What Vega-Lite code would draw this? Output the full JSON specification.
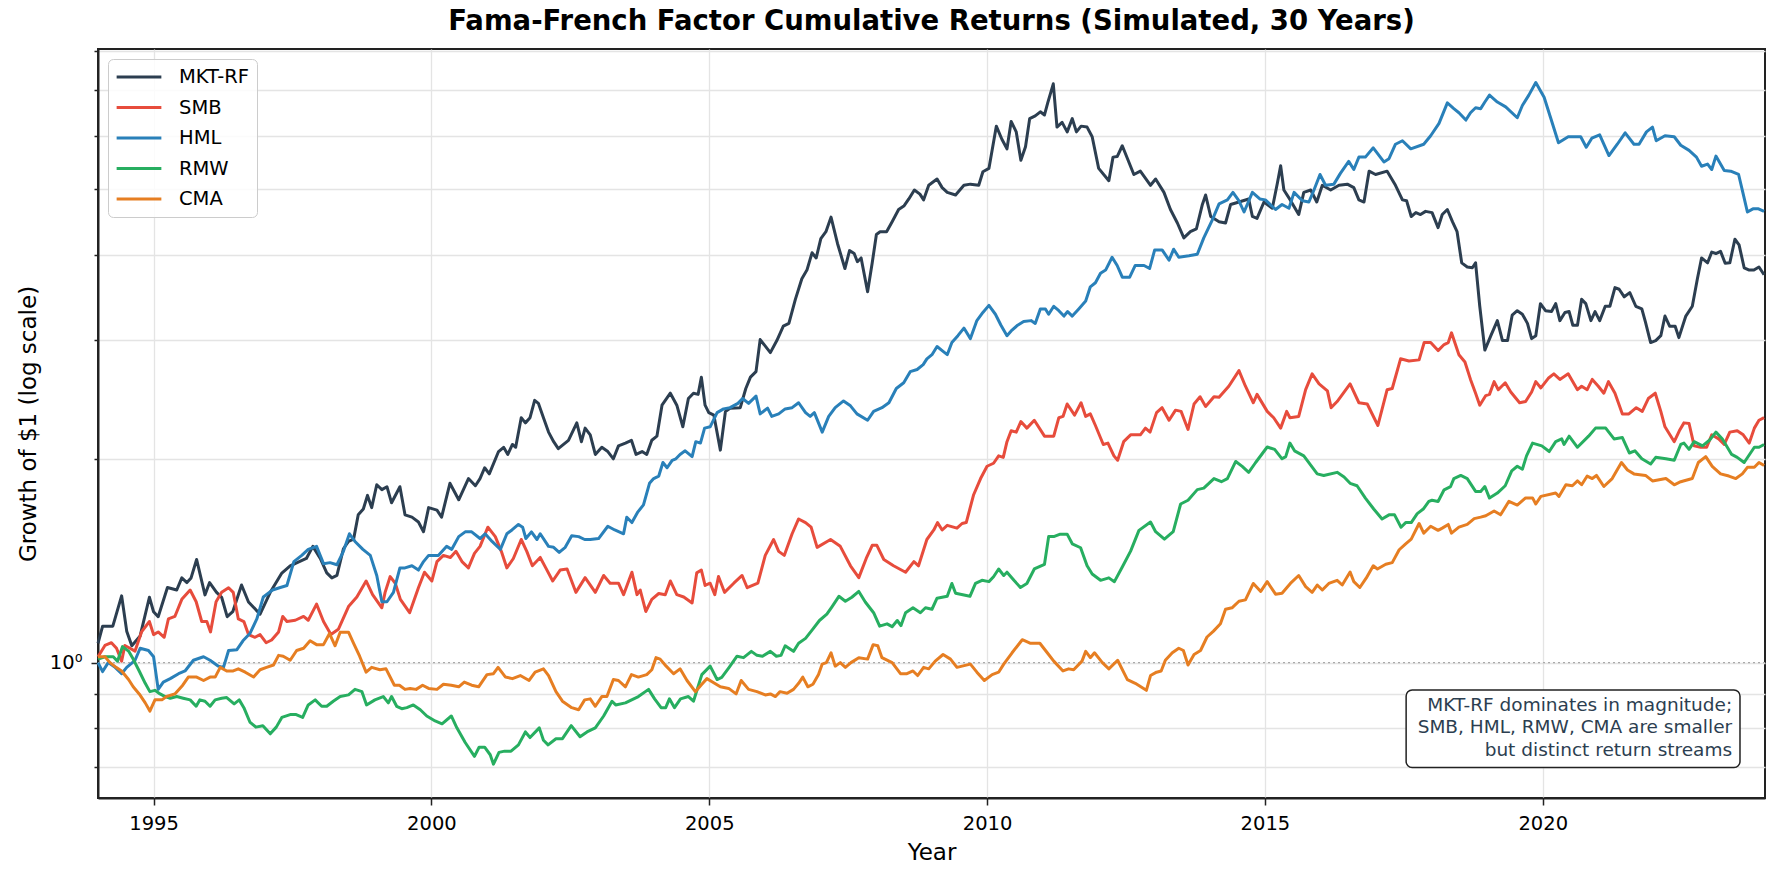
{
"$schema":"https://vega.github.io/schema/vega-lite/v6.json",
"width":1667,"height":749,
"autosize":{"type":"none"},
"padding":{"left":98,"top":49,"right":16,"bottom":82},
"background":"white",
"title":{"text":"Fama-French Factor Cumulative Returns (Simulated, 30 Years)","fontSize":27.5,"fontWeight":"bold","font":"DejaVu Sans","color":"#000","anchor":"middle","frame":"group","offset":-16,"baseline":"alphabetic"},
"config":{"view":{"stroke":"#222","strokeWidth":2},"font":"DejaVu Sans"},
"datasets":{
"mkt":[{"m":0,"v":1.068},{"m":1,"v":1.132},{"m":3.2,"v":1.132},{"m":5.1,"v":1.255},{"m":6.2,"v":1.113},{"m":7.3,"v":1.059},{"m":9.1,"v":1.095},{"m":11.1,"v":1.249},{"m":12,"v":1.189},{"m":13,"v":1.169},{"m":15,"v":1.291},{"m":17,"v":1.28},{"m":18.1,"v":1.334},{"m":19.2,"v":1.313},{"m":20.1,"v":1.334},{"m":21.3,"v":1.42},{"m":23.1,"v":1.259},{"m":24.1,"v":1.313},{"m":25.6,"v":1.27},{"m":26.7,"v":1.249},{"m":27.9,"v":1.169},{"m":29.1,"v":1.189},{"m":31,"v":1.302},{"m":32.5,"v":1.229},{"m":35,"v":1.179},{"m":37.2,"v":1.27},{"m":39.7,"v":1.356},{"m":41.5,"v":1.39},{"m":45,"v":1.425},{"m":46.4,"v":1.485},{"m":48,"v":1.425},{"m":49.4,"v":1.357},{"m":50.5,"v":1.334},{"m":51.6,"v":1.345},{"m":53,"v":1.473},{"m":54.1,"v":1.51},{"m":55.2,"v":1.522},{"m":56.2,"v":1.653},{"m":57.3,"v":1.686},{"m":58.2,"v":1.766},{"m":59.1,"v":1.694},{"m":60.2,"v":1.831},{"m":61.3,"v":1.801},{"m":62.4,"v":1.819},{"m":63.4,"v":1.722},{"m":65.2,"v":1.819},{"m":66.3,"v":1.653},{"m":67.8,"v":1.64},{"m":69.2,"v":1.613},{"m":70.3,"v":1.561},{"m":71.4,"v":1.694},{"m":73.2,"v":1.68},{"m":74.2,"v":1.64},{"m":76,"v":1.84},{"m":77.9,"v":1.74},{"m":80,"v":1.87},{"m":81.5,"v":1.825},{"m":82.5,"v":1.87},{"m":83.5,"v":1.94},{"m":84.5,"v":1.9},{"m":86.5,"v":2.05},{"m":87.6,"v":2.08},{"m":88.5,"v":2.03},{"m":89.5,"v":2.1},{"m":90.2,"v":2.08},{"m":91.4,"v":2.3},{"m":92.3,"v":2.26},{"m":93.3,"v":2.3},{"m":94.3,"v":2.44},{"m":95.1,"v":2.415},{"m":96.2,"v":2.3},{"m":97.3,"v":2.19},{"m":98.4,"v":2.12},{"m":99.4,"v":2.07},{"m":101.6,"v":2.13},{"m":103.4,"v":2.26},{"m":104.4,"v":2.12},{"m":105.2,"v":2.22},{"m":106.3,"v":2.17},{"m":107.4,"v":2.03},{"m":108.8,"v":2.08},{"m":110.1,"v":2.05},{"m":111.3,"v":2.0},{"m":112.4,"v":2.09},{"m":113.9,"v":2.11},{"m":115.2,"v":2.13},{"m":116.2,"v":2.03},{"m":117.5,"v":2.05},{"m":118.5,"v":2.03},{"m":119.6,"v":2.13},{"m":120.7,"v":2.16},{"m":121.8,"v":2.4},{"m":123.6,"v":2.5},{"m":125,"v":2.4},{"m":126.3,"v":2.23},{"m":127.5,"v":2.455},{"m":128.6,"v":2.5},{"m":129.6,"v":2.49},{"m":130.3,"v":2.64},{"m":131.1,"v":2.4},{"m":131.9,"v":2.34},{"m":133,"v":2.32},{"m":134.4,"v":2.06},{"m":135.5,"v":2.35},{"m":136.5,"v":2.375},{"m":138.7,"v":2.38},{"m":139.9,"v":2.54},{"m":140.9,"v":2.64},{"m":142.1,"v":2.69},{"m":143,"v":3.0},{"m":145.2,"v":2.87},{"m":146.6,"v":2.99},{"m":148,"v":3.14},{"m":149.2,"v":3.17},{"m":150.6,"v":3.44},{"m":152,"v":3.69},{"m":153.1,"v":3.8},{"m":154.2,"v":4.03},{"m":155.1,"v":3.96},{"m":156.1,"v":4.23},{"m":157.2,"v":4.33},{"m":158.3,"v":4.55},{"m":159.7,"v":4.16},{"m":161.3,"v":3.82},{"m":162.3,"v":4.06},{"m":163.3,"v":4.02},{"m":164,"v":3.91},{"m":164.8,"v":3.96},{"m":166.2,"v":3.53},{"m":167.2,"v":3.895},{"m":168.1,"v":4.29},{"m":168.9,"v":4.33},{"m":170.3,"v":4.33},{"m":171.5,"v":4.48},{"m":172.9,"v":4.67},{"m":174.1,"v":4.73},{"m":175.1,"v":4.84},{"m":176.3,"v":4.99},{"m":177.5,"v":4.92},{"m":178.3,"v":4.825},{"m":179.4,"v":5.07},{"m":181.2,"v":5.18},{"m":182.3,"v":5.03},{"m":183.4,"v":4.95},{"m":185.2,"v":4.905},{"m":187,"v":5.07},{"m":188.4,"v":5.09},{"m":190.2,"v":5.07},{"m":191.1,"v":5.31},{"m":192.4,"v":5.37},{"m":194,"v":6.2},{"m":195.2,"v":5.93},{"m":196.3,"v":5.74},{"m":197.2,"v":6.3},{"m":198.3,"v":6.08},{"m":199.3,"v":5.52},{"m":200.3,"v":5.78},{"m":201.2,"v":6.36},{"m":202.4,"v":6.42},{"m":203.5,"v":6.51},{"m":204.4,"v":6.44},{"m":205.1,"v":6.71},{"m":206.3,"v":7.16},{"m":207.1,"v":6.18},{"m":208.2,"v":6.28},{"m":209.3,"v":6.08},{"m":210.4,"v":6.36},{"m":211.3,"v":6.08},{"m":212.3,"v":6.2},{"m":213.6,"v":6.18},{"m":214.7,"v":5.98},{"m":216.1,"v":5.37},{"m":218.3,"v":5.15},{"m":219.2,"v":5.58},{"m":220.1,"v":5.59},{"m":221.2,"v":5.8},{"m":223.7,"v":5.26},{"m":225.1,"v":5.32},{"m":227.3,"v":5.07},{"m":228.4,"v":5.18},{"m":230.2,"v":4.95},{"m":231.6,"v":4.67},{"m":233.1,"v":4.46},{"m":234.5,"v":4.24},{"m":235.9,"v":4.33},{"m":237.2,"v":4.37},{"m":238.5,"v":4.75},{"m":239.2,"v":4.905},{"m":240.3,"v":4.56},{"m":242.1,"v":4.48},{"m":243.5,"v":4.46},{"m":244.6,"v":4.75},{"m":246.4,"v":4.79},{"m":248.5,"v":4.84},{"m":249.3,"v":4.56},{"m":250.3,"v":4.53},{"m":251.8,"v":4.79},{"m":253.6,"v":4.69},{"m":254.7,"v":5.11},{"m":255.4,"v":5.42},{"m":256.1,"v":4.99},{"m":257.5,"v":4.82},{"m":259.3,"v":4.59},{"m":260.4,"v":4.95},{"m":261.9,"v":4.99},{"m":263.2,"v":4.79},{"m":264.4,"v":5.07},{"m":266.2,"v":4.99},{"m":268,"v":5.07},{"m":269.8,"v":5.09},{"m":271.2,"v":5.03},{"m":272.3,"v":4.825},{"m":273.4,"v":4.79},{"m":274.5,"v":5.32},{"m":275.9,"v":5.26},{"m":278.4,"v":5.32},{"m":280.2,"v":5.07},{"m":281.7,"v":4.825},{"m":282.6,"v":4.81},{"m":283.6,"v":4.56},{"m":284.6,"v":4.62},{"m":285.6,"v":4.59},{"m":286.7,"v":4.64},{"m":288.1,"v":4.62},{"m":289.4,"v":4.39},{"m":290.3,"v":4.59},{"m":291.4,"v":4.67},{"m":292.5,"v":4.48},{"m":293.5,"v":4.33},{"m":294.5,"v":3.895},{"m":295.7,"v":3.84},{"m":296.8,"v":3.83},{"m":297.5,"v":3.895},{"m":298.4,"v":3.36},{"m":299.5,"v":2.895},{"m":300.8,"v":3.04},{"m":302.2,"v":3.2},{"m":303.3,"v":2.99},{"m":304.4,"v":2.99},{"m":305.4,"v":3.26},{"m":306.5,"v":3.31},{"m":307.6,"v":3.27},{"m":308.7,"v":3.17},{"m":309.6,"v":3.01},{"m":310.5,"v":3.04},{"m":311.5,"v":3.39},{"m":312.6,"v":3.31},{"m":313.9,"v":3.3},{"m":314.8,"v":3.39},{"m":315.7,"v":3.2},{"m":316.8,"v":3.29},{"m":317.7,"v":3.3},{"m":318.5,"v":3.15},{"m":319.5,"v":3.15},{"m":320.4,"v":3.44},{"m":321.3,"v":3.39},{"m":322.4,"v":3.2},{"m":323.3,"v":3.3},{"m":324.3,"v":3.2},{"m":325.5,"v":3.36},{"m":326.5,"v":3.36},{"m":327.6,"v":3.58},{"m":328.5,"v":3.56},{"m":329.6,"v":3.47},{"m":330.8,"v":3.52},{"m":332.1,"v":3.36},{"m":333.4,"v":3.33},{"m":334.2,"v":3.18},{"m":335.3,"v":2.97},{"m":336.4,"v":2.99},{"m":337.5,"v":3.04},{"m":338.4,"v":3.25},{"m":339.4,"v":3.14},{"m":340.6,"v":3.14},{"m":341.4,"v":3.02},{"m":342.9,"v":3.25},{"m":344.3,"v":3.36},{"m":345.4,"v":3.69},{"m":346.3,"v":3.96},{"m":347.6,"v":3.895},{"m":348.5,"v":4.04},{"m":349.4,"v":4.02},{"m":350.4,"v":4.05},{"m":351.4,"v":3.89},{"m":352.4,"v":3.895},{"m":353.5,"v":4.22},{"m":354.4,"v":4.14},{"m":355.5,"v":3.83},{"m":356.6,"v":3.8},{"m":357.6,"v":3.8},{"m":358.7,"v":3.84},{"m":359.8,"v":3.74}],
"smb":[{"m":0,"v":1.02},{"m":1.5,"v":1.06},{"m":2.9,"v":1.07},{"m":4,"v":1.05},{"m":5.1,"v":1.005},{"m":5.8,"v":1.06},{"m":6.9,"v":1.05},{"m":8,"v":1.04},{"m":9.4,"v":1.11},{"m":11.1,"v":1.15},{"m":12,"v":1.1},{"m":13,"v":1.11},{"m":14.3,"v":1.09},{"m":15.2,"v":1.16},{"m":16.6,"v":1.17},{"m":18.1,"v":1.24},{"m":19.9,"v":1.28},{"m":21.2,"v":1.23},{"m":22.4,"v":1.15},{"m":23.5,"v":1.15},{"m":24.3,"v":1.11},{"m":25.5,"v":1.23},{"m":26.7,"v":1.27},{"m":28.2,"v":1.29},{"m":29.2,"v":1.27},{"m":30.3,"v":1.16},{"m":31.5,"v":1.15},{"m":32.5,"v":1.1},{"m":33.9,"v":1.09},{"m":35,"v":1.1},{"m":36.3,"v":1.07},{"m":37.5,"v":1.08},{"m":39,"v":1.11},{"m":39.9,"v":1.17},{"m":40.8,"v":1.15},{"m":42.6,"v":1.155},{"m":44.4,"v":1.17},{"m":45.4,"v":1.155},{"m":47.2,"v":1.22},{"m":48.7,"v":1.15},{"m":50.3,"v":1.1},{"m":51.9,"v":1.12},{"m":54.1,"v":1.21},{"m":55.9,"v":1.25},{"m":57.9,"v":1.32},{"m":59.3,"v":1.26},{"m":61.3,"v":1.205},{"m":62,"v":1.27},{"m":63.1,"v":1.34},{"m":64.2,"v":1.31},{"m":65.3,"v":1.24},{"m":67.3,"v":1.185},{"m":69.2,"v":1.29},{"m":70.5,"v":1.36},{"m":72.1,"v":1.32},{"m":73.2,"v":1.41},{"m":74.6,"v":1.44},{"m":76.1,"v":1.43},{"m":77.3,"v":1.46},{"m":78.6,"v":1.41},{"m":80,"v":1.38},{"m":81.3,"v":1.45},{"m":82.5,"v":1.485},{"m":84.2,"v":1.585},{"m":85.8,"v":1.535},{"m":87.1,"v":1.46},{"m":88.3,"v":1.38},{"m":89.7,"v":1.425},{"m":91.4,"v":1.52},{"m":92.6,"v":1.46},{"m":93.8,"v":1.39},{"m":95.5,"v":1.43},{"m":96.7,"v":1.38},{"m":98.2,"v":1.32},{"m":99.8,"v":1.37},{"m":101.3,"v":1.375},{"m":103.2,"v":1.27},{"m":105.2,"v":1.335},{"m":107.4,"v":1.27},{"m":109.2,"v":1.345},{"m":110.6,"v":1.31},{"m":112.4,"v":1.31},{"m":113.5,"v":1.26},{"m":115.3,"v":1.36},{"m":116.4,"v":1.26},{"m":117.1,"v":1.28},{"m":118.3,"v":1.19},{"m":119.6,"v":1.24},{"m":121.1,"v":1.265},{"m":122.5,"v":1.26},{"m":123.6,"v":1.32},{"m":125,"v":1.26},{"m":126.5,"v":1.25},{"m":128.3,"v":1.225},{"m":129.3,"v":1.357},{"m":130.3,"v":1.37},{"m":131.1,"v":1.3},{"m":132.2,"v":1.31},{"m":133.2,"v":1.26},{"m":134,"v":1.34},{"m":135.3,"v":1.27},{"m":137.3,"v":1.31},{"m":139.1,"v":1.345},{"m":140.2,"v":1.29},{"m":142.5,"v":1.31},{"m":144.1,"v":1.44},{"m":145.9,"v":1.52},{"m":147,"v":1.46},{"m":148.2,"v":1.44},{"m":149.9,"v":1.55},{"m":151.3,"v":1.63},{"m":152.8,"v":1.61},{"m":154,"v":1.585},{"m":155.3,"v":1.48},{"m":158.2,"v":1.52},{"m":160.3,"v":1.485},{"m":162.5,"v":1.39},{"m":164.3,"v":1.335},{"m":165.9,"v":1.425},{"m":167.2,"v":1.49},{"m":168.2,"v":1.49},{"m":169.7,"v":1.42},{"m":171.8,"v":1.39},{"m":174.4,"v":1.36},{"m":176.2,"v":1.41},{"m":177.2,"v":1.39},{"m":179,"v":1.52},{"m":180.5,"v":1.57},{"m":181.3,"v":1.61},{"m":182.3,"v":1.57},{"m":183.4,"v":1.595},{"m":185.5,"v":1.58},{"m":186.6,"v":1.605},{"m":187.5,"v":1.61},{"m":189.1,"v":1.77},{"m":190.6,"v":1.87},{"m":192,"v":1.95},{"m":193.4,"v":1.97},{"m":194.5,"v":2.02},{"m":195.5,"v":2.01},{"m":196.3,"v":2.12},{"m":197.2,"v":2.2},{"m":198.3,"v":2.19},{"m":199.3,"v":2.27},{"m":200.6,"v":2.22},{"m":202.2,"v":2.28},{"m":204.4,"v":2.16},{"m":206.4,"v":2.16},{"m":207.5,"v":2.3},{"m":208.4,"v":2.31},{"m":209.3,"v":2.41},{"m":210.9,"v":2.32},{"m":212.3,"v":2.42},{"m":213.3,"v":2.31},{"m":214.3,"v":2.33},{"m":215.4,"v":2.24},{"m":217.1,"v":2.1},{"m":218.1,"v":2.11},{"m":219.4,"v":2.02},{"m":220.2,"v":1.99},{"m":221.5,"v":2.12},{"m":223,"v":2.17},{"m":225.1,"v":2.17},{"m":226.2,"v":2.22},{"m":227.2,"v":2.19},{"m":228.6,"v":2.34},{"m":229.8,"v":2.38},{"m":231.3,"v":2.28},{"m":232.7,"v":2.36},{"m":233.9,"v":2.35},{"m":235.4,"v":2.21},{"m":236.7,"v":2.41},{"m":238,"v":2.47},{"m":239.2,"v":2.39},{"m":241,"v":2.47},{"m":242.1,"v":2.465},{"m":244.2,"v":2.56},{"m":246.4,"v":2.7},{"m":247.8,"v":2.56},{"m":249.5,"v":2.42},{"m":250.3,"v":2.49},{"m":252.5,"v":2.35},{"m":253.9,"v":2.3},{"m":255.4,"v":2.22},{"m":256.7,"v":2.35},{"m":257.4,"v":2.3},{"m":259.3,"v":2.31},{"m":260.8,"v":2.53},{"m":262.2,"v":2.67},{"m":263.7,"v":2.58},{"m":265.5,"v":2.52},{"m":266.3,"v":2.38},{"m":267.6,"v":2.43},{"m":270.4,"v":2.58},{"m":272.3,"v":2.42},{"m":274.1,"v":2.41},{"m":276.4,"v":2.24},{"m":278.4,"v":2.53},{"m":279.5,"v":2.54},{"m":281.3,"v":2.81},{"m":283.1,"v":2.79},{"m":285.3,"v":2.8},{"m":286.4,"v":2.97},{"m":287.8,"v":2.97},{"m":289.4,"v":2.89},{"m":290.7,"v":2.95},{"m":291.6,"v":2.97},{"m":292.3,"v":3.07},{"m":293.9,"v":2.85},{"m":295.2,"v":2.78},{"m":296.4,"v":2.62},{"m":297.5,"v":2.5},{"m":298.4,"v":2.4},{"m":299.7,"v":2.48},{"m":300.5,"v":2.49},{"m":301.5,"v":2.6},{"m":302.4,"v":2.53},{"m":303.9,"v":2.59},{"m":305.1,"v":2.51},{"m":307,"v":2.42},{"m":308.3,"v":2.43},{"m":309.6,"v":2.51},{"m":310.5,"v":2.6},{"m":311.6,"v":2.545},{"m":313.2,"v":2.63},{"m":314.4,"v":2.67},{"m":315.7,"v":2.62},{"m":317.5,"v":2.67},{"m":319.5,"v":2.53},{"m":320.4,"v":2.56},{"m":321.6,"v":2.53},{"m":322.7,"v":2.62},{"m":324,"v":2.56},{"m":325.2,"v":2.5},{"m":326.2,"v":2.6},{"m":327.6,"v":2.5},{"m":329.2,"v":2.33},{"m":330.6,"v":2.33},{"m":332.2,"v":2.38},{"m":333.5,"v":2.35},{"m":334.8,"v":2.455},{"m":336.3,"v":2.5},{"m":337.5,"v":2.35},{"m":338.4,"v":2.23},{"m":340.4,"v":2.12},{"m":341.5,"v":2.2},{"m":342.5,"v":2.26},{"m":343.6,"v":2.255},{"m":344.7,"v":2.09},{"m":346.1,"v":2.08},{"m":347.4,"v":2.08},{"m":348.5,"v":2.17},{"m":350,"v":2.14},{"m":351.2,"v":2.1},{"m":352.4,"v":2.19},{"m":354,"v":2.2},{"m":355.3,"v":2.17},{"m":356.6,"v":2.11},{"m":357.7,"v":2.22},{"m":358.7,"v":2.28},{"m":359.8,"v":2.3}],
"hml":[{"m":0,"v":1.0},{"m":1,"v":0.97},{"m":2.2,"v":1.0},{"m":3.7,"v":0.984},{"m":5.1,"v":0.963},{"m":6.2,"v":0.984},{"m":8,"v":1.008},{"m":9.1,"v":1.05},{"m":10.9,"v":1.042},{"m":12,"v":1.02},{"m":13,"v":0.913},{"m":14.1,"v":0.936},{"m":15.6,"v":0.947},{"m":17.4,"v":0.963},{"m":18.8,"v":0.972},{"m":20.6,"v":1.008},{"m":22.8,"v":1.02},{"m":24.2,"v":1.008},{"m":26,"v":0.988},{"m":27.1,"v":0.984},{"m":28.2,"v":1.042},{"m":30,"v":1.045},{"m":31.3,"v":1.077},{"m":32.8,"v":1.104},{"m":34.3,"v":1.16},{"m":35.7,"v":1.25},{"m":37.7,"v":1.28},{"m":39.2,"v":1.29},{"m":40.8,"v":1.3},{"m":42.3,"v":1.41},{"m":44,"v":1.44},{"m":45.4,"v":1.47},{"m":47.2,"v":1.485},{"m":48.7,"v":1.4},{"m":50.1,"v":1.405},{"m":51.6,"v":1.395},{"m":53,"v":1.46},{"m":54.3,"v":1.55},{"m":55.5,"v":1.51},{"m":57.2,"v":1.47},{"m":58.8,"v":1.44},{"m":60.2,"v":1.345},{"m":61.3,"v":1.23},{"m":62.4,"v":1.23},{"m":63.8,"v":1.27},{"m":65.2,"v":1.38},{"m":66.3,"v":1.38},{"m":67.8,"v":1.39},{"m":69.2,"v":1.37},{"m":70.3,"v":1.41},{"m":71.4,"v":1.44},{"m":73.5,"v":1.44},{"m":75.3,"v":1.485},{"m":76.4,"v":1.47},{"m":77.9,"v":1.535},{"m":79.3,"v":1.56},{"m":80.7,"v":1.56},{"m":82.5,"v":1.525},{"m":83.6,"v":1.55},{"m":85.1,"v":1.51},{"m":86.9,"v":1.47},{"m":88.3,"v":1.55},{"m":89.4,"v":1.57},{"m":90.8,"v":1.6},{"m":91.7,"v":1.585},{"m":92.4,"v":1.525},{"m":93.6,"v":1.56},{"m":94.8,"v":1.52},{"m":95.5,"v":1.55},{"m":97.3,"v":1.485},{"m":98.4,"v":1.48},{"m":99.6,"v":1.455},{"m":100.9,"v":1.48},{"m":102.3,"v":1.54},{"m":103.8,"v":1.535},{"m":105.1,"v":1.52},{"m":106.3,"v":1.52},{"m":108.1,"v":1.525},{"m":110.1,"v":1.59},{"m":111.6,"v":1.57},{"m":113.5,"v":1.55},{"m":114.2,"v":1.64},{"m":115.3,"v":1.61},{"m":116.6,"v":1.67},{"m":117.8,"v":1.71},{"m":119.1,"v":1.84},{"m":120,"v":1.87},{"m":121.1,"v":1.886},{"m":122,"v":1.975},{"m":122.9,"v":1.94},{"m":124,"v":1.99},{"m":124.8,"v":2.0},{"m":125.7,"v":2.03},{"m":126.8,"v":2.055},{"m":128.3,"v":2.015},{"m":129.1,"v":2.12},{"m":130.1,"v":2.11},{"m":131,"v":2.22},{"m":132.2,"v":2.23},{"m":133.7,"v":2.34},{"m":135.1,"v":2.37},{"m":136.5,"v":2.38},{"m":138.2,"v":2.415},{"m":139.2,"v":2.455},{"m":140.5,"v":2.415},{"m":142.1,"v":2.475},{"m":143,"v":2.33},{"m":144.6,"v":2.376},{"m":145.5,"v":2.31},{"m":147,"v":2.33},{"m":148.4,"v":2.37},{"m":149.9,"v":2.38},{"m":151.3,"v":2.42},{"m":152.8,"v":2.34},{"m":153.8,"v":2.31},{"m":154.7,"v":2.34},{"m":156.4,"v":2.19},{"m":157.8,"v":2.31},{"m":159.2,"v":2.38},{"m":161,"v":2.435},{"m":162.5,"v":2.395},{"m":163.9,"v":2.33},{"m":166.2,"v":2.28},{"m":167.5,"v":2.35},{"m":169.3,"v":2.38},{"m":170.8,"v":2.42},{"m":172.4,"v":2.54},{"m":174,"v":2.59},{"m":175.4,"v":2.69},{"m":176.9,"v":2.71},{"m":178.2,"v":2.755},{"m":179,"v":2.81},{"m":180.1,"v":2.85},{"m":181.2,"v":2.93},{"m":182.3,"v":2.89},{"m":183.4,"v":2.85},{"m":184.4,"v":2.97},{"m":185.7,"v":3.04},{"m":187,"v":3.12},{"m":188.4,"v":3.01},{"m":189.8,"v":3.2},{"m":191.1,"v":3.29},{"m":192.4,"v":3.37},{"m":193.8,"v":3.27},{"m":195,"v":3.15},{"m":196.3,"v":3.04},{"m":197.2,"v":3.09},{"m":198.6,"v":3.15},{"m":199.9,"v":3.19},{"m":201.5,"v":3.2},{"m":202.4,"v":3.17},{"m":203.5,"v":3.33},{"m":204.6,"v":3.33},{"m":205.3,"v":3.27},{"m":206.4,"v":3.36},{"m":207.5,"v":3.31},{"m":208.6,"v":3.25},{"m":209.4,"v":3.3},{"m":210.4,"v":3.25},{"m":211.8,"v":3.33},{"m":213.3,"v":3.42},{"m":214.3,"v":3.59},{"m":215.4,"v":3.64},{"m":216.5,"v":3.76},{"m":217.6,"v":3.8},{"m":219,"v":3.97},{"m":220.1,"v":3.86},{"m":221.2,"v":3.71},{"m":222.8,"v":3.71},{"m":224,"v":3.86},{"m":225.9,"v":3.86},{"m":227.1,"v":3.82},{"m":228.2,"v":4.07},{"m":229.8,"v":4.07},{"m":231.3,"v":3.93},{"m":232.3,"v":4.08},{"m":233.4,"v":3.97},{"m":235.6,"v":3.99},{"m":237.4,"v":4.01},{"m":238.8,"v":4.24},{"m":240.6,"v":4.5},{"m":242.1,"v":4.76},{"m":243.9,"v":4.825},{"m":245.1,"v":4.95},{"m":246.4,"v":4.81},{"m":247.5,"v":4.63},{"m":249.3,"v":4.95},{"m":250.9,"v":4.84},{"m":252.1,"v":4.825},{"m":254.3,"v":4.67},{"m":255.7,"v":4.75},{"m":257.2,"v":4.69},{"m":258.3,"v":4.95},{"m":260.1,"v":4.81},{"m":261.5,"v":4.79},{"m":262.6,"v":4.99},{"m":263.9,"v":5.26},{"m":265.1,"v":5.07},{"m":266.9,"v":5.09},{"m":268.3,"v":5.28},{"m":270.1,"v":5.5},{"m":271.2,"v":5.35},{"m":272.3,"v":5.58},{"m":273.7,"v":5.58},{"m":275.4,"v":5.76},{"m":277.7,"v":5.49},{"m":278.8,"v":5.55},{"m":280.2,"v":5.83},{"m":281.7,"v":5.9},{"m":283.5,"v":5.74},{"m":286.3,"v":5.83},{"m":287.8,"v":6.0},{"m":289.6,"v":6.26},{"m":291.4,"v":6.71},{"m":292.8,"v":6.58},{"m":293.9,"v":6.49},{"m":295.4,"v":6.33},{"m":296.4,"v":6.49},{"m":297.5,"v":6.6},{"m":298.6,"v":6.58},{"m":299.5,"v":6.73},{"m":300.5,"v":6.89},{"m":302.2,"v":6.73},{"m":304,"v":6.62},{"m":306.5,"v":6.38},{"m":307.6,"v":6.65},{"m":309,"v":6.89},{"m":310.5,"v":7.19},{"m":312.3,"v":6.84},{"m":313.7,"v":6.38},{"m":315.4,"v":5.86},{"m":317.5,"v":5.98},{"m":320.2,"v":5.98},{"m":321.4,"v":5.77},{"m":322.6,"v":5.95},{"m":324.3,"v":6.02},{"m":326.3,"v":5.61},{"m":328.1,"v":5.83},{"m":329.8,"v":6.06},{"m":331.7,"v":5.83},{"m":332.8,"v":5.83},{"m":334.4,"v":6.08},{"m":335.7,"v":6.18},{"m":336.5,"v":5.9},{"m":338.4,"v":6.0},{"m":340.4,"v":5.98},{"m":341.8,"v":5.81},{"m":343.6,"v":5.71},{"m":345.2,"v":5.58},{"m":346.3,"v":5.41},{"m":347.6,"v":5.45},{"m":348.5,"v":5.35},{"m":349.4,"v":5.6},{"m":351.2,"v":5.33},{"m":352.6,"v":5.32},{"m":354.3,"v":5.26},{"m":355.3,"v":4.92},{"m":356.2,"v":4.63},{"m":357.4,"v":4.68},{"m":358.6,"v":4.68},{"m":359.8,"v":4.64}],
"rmw":[{"m":0,"v":1.012},{"m":1.5,"v":1.02},{"m":3.3,"v":1.02},{"m":4.2,"v":1.005},{"m":5.3,"v":1.056},{"m":6.6,"v":1.04},{"m":7.6,"v":1.012},{"m":8.9,"v":0.972},{"m":10.2,"v":0.932},{"m":11.2,"v":0.906},{"m":12.3,"v":0.91},{"m":13.4,"v":0.899},{"m":14.5,"v":0.891},{"m":15.6,"v":0.886},{"m":17,"v":0.891},{"m":18.4,"v":0.886},{"m":19.9,"v":0.881},{"m":21.2,"v":0.862},{"m":22,"v":0.881},{"m":23.1,"v":0.877},{"m":24.2,"v":0.862},{"m":25.3,"v":0.881},{"m":26.7,"v":0.886},{"m":27.8,"v":0.888},{"m":29.4,"v":0.869},{"m":30.5,"v":0.881},{"m":31.5,"v":0.858},{"m":32.8,"v":0.817},{"m":34.1,"v":0.803},{"m":35.6,"v":0.807},{"m":37.2,"v":0.785},{"m":38.5,"v":0.803},{"m":39.7,"v":0.83},{"m":41.5,"v":0.838},{"m":42.8,"v":0.838},{"m":44.2,"v":0.83},{"m":45.4,"v":0.866},{"m":46.9,"v":0.881},{"m":48.3,"v":0.862},{"m":49.4,"v":0.862},{"m":50.8,"v":0.877},{"m":52.3,"v":0.891},{"m":54.1,"v":0.896},{"m":55.5,"v":0.913},{"m":57,"v":0.906},{"m":58,"v":0.866},{"m":59.8,"v":0.881},{"m":61.6,"v":0.891},{"m":62.7,"v":0.872},{"m":63.4,"v":0.891},{"m":64.5,"v":0.862},{"m":65.6,"v":0.855},{"m":66.7,"v":0.858},{"m":68.1,"v":0.866},{"m":69.6,"v":0.852},{"m":71,"v":0.834},{"m":72.8,"v":0.82},{"m":74.3,"v":0.812},{"m":76.3,"v":0.834},{"m":77.5,"v":0.801},{"m":79.3,"v":0.762},{"m":81.3,"v":0.727},{"m":82.3,"v":0.75},{"m":83.5,"v":0.75},{"m":84.7,"v":0.731},{"m":85.4,"v":0.708},{"m":86.6,"v":0.737},{"m":87.8,"v":0.74},{"m":89.2,"v":0.74},{"m":90.8,"v":0.756},{"m":92.3,"v":0.79},{"m":93.3,"v":0.775},{"m":95.3,"v":0.801},{"m":96.2,"v":0.768},{"m":97.2,"v":0.756},{"m":98.9,"v":0.772},{"m":100.3,"v":0.772},{"m":102.2,"v":0.807},{"m":104.1,"v":0.777},{"m":105.6,"v":0.79},{"m":107.4,"v":0.801},{"m":109.2,"v":0.834},{"m":111,"v":0.877},{"m":111.8,"v":0.866},{"m":113.9,"v":0.872},{"m":116.7,"v":0.891},{"m":118.9,"v":0.913},{"m":120.2,"v":0.884},{"m":121.6,"v":0.858},{"m":122.6,"v":0.858},{"m":123.4,"v":0.884},{"m":124.5,"v":0.858},{"m":125.8,"v":0.884},{"m":127.5,"v":0.891},{"m":128.6,"v":0.877},{"m":130.4,"v":0.96},{"m":132.2,"v":0.988},{"m":133.7,"v":0.944},{"m":134.7,"v":0.951},{"m":136.3,"v":0.984},{"m":138,"v":1.022},{"m":139.4,"v":1.017},{"m":141.1,"v":1.039},{"m":142.3,"v":1.025},{"m":143.5,"v":1.022},{"m":145.2,"v":1.039},{"m":146.5,"v":1.022},{"m":147.5,"v":1.025},{"m":148.4,"v":1.059},{"m":149.2,"v":1.05},{"m":150.2,"v":1.039},{"m":151.3,"v":1.068},{"m":152.8,"v":1.086},{"m":154.2,"v":1.117},{"m":155.8,"v":1.154},{"m":157.4,"v":1.179},{"m":158.5,"v":1.209},{"m":160,"v":1.253},{"m":161.4,"v":1.232},{"m":162.8,"v":1.249},{"m":164.3,"v":1.274},{"m":165.7,"v":1.229},{"m":167.5,"v":1.185},{"m":168.8,"v":1.132},{"m":170.4,"v":1.141},{"m":171.5,"v":1.13},{"m":172.6,"v":1.154},{"m":173.4,"v":1.134},{"m":174.4,"v":1.185},{"m":176,"v":1.205},{"m":177.6,"v":1.185},{"m":178.7,"v":1.205},{"m":180.1,"v":1.199},{"m":181.2,"v":1.245},{"m":183.4,"v":1.253},{"m":184.4,"v":1.309},{"m":185.2,"v":1.266},{"m":188.3,"v":1.253},{"m":189.5,"v":1.309},{"m":190.9,"v":1.323},{"m":192.4,"v":1.317},{"m":193.4,"v":1.339},{"m":194.5,"v":1.375},{"m":195.6,"v":1.345},{"m":196.3,"v":1.36},{"m":197.8,"v":1.323},{"m":199.2,"v":1.291},{"m":200.6,"v":1.309},{"m":202.2,"v":1.375},{"m":204.4,"v":1.397},{"m":205.3,"v":1.535},{"m":206.4,"v":1.535},{"m":207.8,"v":1.548},{"m":209.3,"v":1.548},{"m":210.4,"v":1.498},{"m":212.2,"v":1.478},{"m":213.6,"v":1.39},{"m":214.7,"v":1.352},{"m":216.5,"v":1.323},{"m":218.3,"v":1.334},{"m":219.5,"v":1.317},{"m":221.2,"v":1.384},{"m":223,"v":1.461},{"m":224.8,"v":1.568},{"m":227.3,"v":1.613},{"m":228.4,"v":1.561},{"m":230.3,"v":1.522},{"m":232.2,"v":1.561},{"m":233.8,"v":1.715},{"m":235.4,"v":1.737},{"m":237.4,"v":1.801},{"m":238.8,"v":1.81},{"m":241,"v":1.87},{"m":242.6,"v":1.85},{"m":243.9,"v":1.87},{"m":245.7,"v":1.982},{"m":247.1,"v":1.949},{"m":248.5,"v":1.91},{"m":250,"v":1.975},{"m":252.5,"v":2.082},{"m":254.1,"v":2.065},{"m":255.7,"v":2.0},{"m":256.5,"v":2.015},{"m":257.4,"v":2.11},{"m":258.4,"v":2.055},{"m":260.4,"v":2.02},{"m":263.3,"v":1.9},{"m":264.7,"v":1.89},{"m":267.6,"v":1.91},{"m":269.1,"v":1.88},{"m":270.4,"v":1.84},{"m":271.9,"v":1.825},{"m":273.7,"v":1.75},{"m":275.5,"v":1.686},{"m":277.3,"v":1.63},{"m":278.8,"v":1.653},{"m":280,"v":1.653},{"m":281.4,"v":1.585},{"m":282.4,"v":1.61},{"m":283.6,"v":1.61},{"m":284.9,"v":1.66},{"m":286.2,"v":1.686},{"m":287.4,"v":1.73},{"m":288.1,"v":1.737},{"m":289.4,"v":1.73},{"m":290.7,"v":1.8},{"m":292.1,"v":1.82},{"m":292.8,"v":1.87},{"m":294.3,"v":1.89},{"m":295.7,"v":1.87},{"m":297.5,"v":1.79},{"m":298.6,"v":1.79},{"m":299.5,"v":1.82},{"m":300.5,"v":1.75},{"m":302.2,"v":1.78},{"m":303.9,"v":1.825},{"m":305.3,"v":1.92},{"m":306.5,"v":1.95},{"m":307.6,"v":1.93},{"m":308.5,"v":2.02},{"m":309.8,"v":2.11},{"m":311.8,"v":2.09},{"m":313.4,"v":2.05},{"m":314.8,"v":2.12},{"m":316.1,"v":2.14},{"m":316.6,"v":2.1},{"m":317.7,"v":2.16},{"m":319.5,"v":2.08},{"m":321.9,"v":2.16},{"m":323.4,"v":2.22},{"m":325.6,"v":2.22},{"m":327.4,"v":2.14},{"m":329.2,"v":2.15},{"m":330.7,"v":2.04},{"m":331.9,"v":2.055},{"m":333.4,"v":2.0},{"m":335.3,"v":1.965},{"m":336.4,"v":2.01},{"m":338.6,"v":2.0},{"m":340.4,"v":1.99},{"m":341.8,"v":2.1},{"m":342.5,"v":2.11},{"m":343.6,"v":2.065},{"m":344.7,"v":2.12},{"m":346.5,"v":2.09},{"m":348,"v":2.13},{"m":349.4,"v":2.19},{"m":350.8,"v":2.14},{"m":352.8,"v":2.03},{"m":354,"v":2.01},{"m":355.5,"v":1.975},{"m":357.7,"v":2.08},{"m":358.7,"v":2.08},{"m":359.8,"v":2.1}],
"cma":[{"m":0,"v":1.02},{"m":1.5,"v":1.02},{"m":2.6,"v":1.0},{"m":3.9,"v":0.984},{"m":5.1,"v":0.972},{"m":6.6,"v":0.944},{"m":7.6,"v":0.921},{"m":8.9,"v":0.899},{"m":10.2,"v":0.872},{"m":11.2,"v":0.848},{"m":12.3,"v":0.881},{"m":13.8,"v":0.881},{"m":14.8,"v":0.891},{"m":16.6,"v":0.899},{"m":18.3,"v":0.926},{"m":19.5,"v":0.952},{"m":21.3,"v":0.952},{"m":22.8,"v":0.941},{"m":24.2,"v":0.952},{"m":25.3,"v":0.952},{"m":26.4,"v":0.984},{"m":27.8,"v":0.972},{"m":29.2,"v":0.972},{"m":30.3,"v":0.979},{"m":31.8,"v":0.968},{"m":33.6,"v":0.952},{"m":35,"v":0.976},{"m":36.4,"v":0.984},{"m":37.9,"v":0.992},{"m":39,"v":1.025},{"m":40,"v":1.022},{"m":41.5,"v":1.008},{"m":42.9,"v":1.042},{"m":44.4,"v":1.05},{"m":45.8,"v":1.077},{"m":47.2,"v":1.063},{"m":48.7,"v":1.063},{"m":50,"v":1.104},{"m":51.2,"v":1.059},{"m":52.3,"v":1.109},{"m":54.1,"v":1.109},{"m":55.2,"v":1.068},{"m":56.5,"v":1.022},{"m":57.9,"v":0.968},{"m":59.1,"v":0.984},{"m":60.9,"v":0.976},{"m":62.2,"v":0.979},{"m":64,"v":0.926},{"m":65.1,"v":0.926},{"m":66.3,"v":0.913},{"m":67.4,"v":0.916},{"m":68.7,"v":0.913},{"m":70.1,"v":0.926},{"m":71.4,"v":0.916},{"m":73.2,"v":0.913},{"m":74.6,"v":0.929},{"m":76.3,"v":0.926},{"m":77.9,"v":0.921},{"m":79.1,"v":0.936},{"m":80.7,"v":0.926},{"m":82.2,"v":0.921},{"m":84,"v":0.96},{"m":85.4,"v":0.963},{"m":86.4,"v":0.984},{"m":88,"v":0.952},{"m":89.5,"v":0.947},{"m":91.2,"v":0.957},{"m":93.1,"v":0.941},{"m":94.4,"v":0.968},{"m":96.2,"v":0.979},{"m":97.3,"v":0.957},{"m":98.9,"v":0.906},{"m":100.3,"v":0.877},{"m":102.3,"v":0.858},{"m":103.8,"v":0.852},{"m":105.1,"v":0.881},{"m":106.3,"v":0.884},{"m":107.4,"v":0.862},{"m":108.8,"v":0.891},{"m":109.9,"v":0.891},{"m":111.3,"v":0.944},{"m":112.4,"v":0.941},{"m":113.9,"v":0.921},{"m":115.2,"v":0.96},{"m":116.7,"v":0.952},{"m":118.5,"v":0.96},{"m":119.6,"v":0.976},{"m":120.5,"v":1.017},{"m":121.4,"v":1.012},{"m":122.7,"v":0.988},{"m":124.3,"v":0.963},{"m":125.7,"v":0.979},{"m":127.2,"v":0.941},{"m":129,"v":0.906},{"m":130.4,"v":0.929},{"m":131.5,"v":0.947},{"m":132.7,"v":0.936},{"m":134.4,"v":0.921},{"m":136.2,"v":0.916},{"m":137.8,"v":0.899},{"m":138.9,"v":0.941},{"m":140.5,"v":0.913},{"m":142.3,"v":0.906},{"m":144.1,"v":0.896},{"m":145.2,"v":0.899},{"m":146.3,"v":0.891},{"m":147.3,"v":0.906},{"m":148.8,"v":0.901},{"m":150.2,"v":0.913},{"m":151.3,"v":0.932},{"m":152.2,"v":0.952},{"m":153.3,"v":0.921},{"m":154.4,"v":0.929},{"m":155.6,"v":0.96},{"m":156.4,"v":0.995},{"m":157.3,"v":1.0},{"m":158.3,"v":1.034},{"m":159.2,"v":0.988},{"m":160.3,"v":1.0},{"m":161.4,"v":0.984},{"m":162.6,"v":1.0},{"m":164.3,"v":1.017},{"m":166.2,"v":1.012},{"m":167.4,"v":1.063},{"m":168.4,"v":1.059},{"m":169.3,"v":1.017},{"m":171.5,"v":1.0},{"m":173.3,"v":0.963},{"m":174.7,"v":0.963},{"m":176,"v":0.972},{"m":177,"v":0.957},{"m":178.3,"v":0.984},{"m":179.4,"v":0.979},{"m":180.8,"v":1.005},{"m":182.5,"v":1.028},{"m":184.1,"v":1.012},{"m":185.5,"v":0.984},{"m":188.4,"v":0.995},{"m":189.8,"v":0.968},{"m":191.4,"v":0.941},{"m":193.1,"v":0.96},{"m":194.5,"v":0.968},{"m":195.6,"v":0.995},{"m":197.4,"v":1.034},{"m":199.6,"v":1.081},{"m":201.4,"v":1.068},{"m":203.4,"v":1.068},{"m":205,"v":1.034},{"m":206.4,"v":1.005},{"m":208.4,"v":0.972},{"m":209.6,"v":0.979},{"m":210.7,"v":0.976},{"m":212.5,"v":1.005},{"m":213.3,"v":1.039},{"m":214.3,"v":1.017},{"m":215.2,"v":1.034},{"m":216.9,"v":1.0},{"m":218.3,"v":0.979},{"m":220.2,"v":1.008},{"m":222.3,"v":0.944},{"m":224,"v":0.932},{"m":226.4,"v":0.91},{"m":227.3,"v":0.957},{"m":228.6,"v":0.968},{"m":229.6,"v":0.972},{"m":230.5,"v":1.008},{"m":232,"v":1.034},{"m":233.4,"v":1.05},{"m":234.4,"v":1.042},{"m":235.4,"v":0.992},{"m":236.7,"v":1.028},{"m":238.1,"v":1.042},{"m":239.5,"v":1.091},{"m":240.9,"v":1.113},{"m":242.4,"v":1.141},{"m":243.5,"v":1.199},{"m":244.9,"v":1.205},{"m":246.4,"v":1.232},{"m":247.8,"v":1.238},{"m":249.5,"v":1.309},{"m":251.1,"v":1.274},{"m":252.5,"v":1.317},{"m":254.3,"v":1.262},{"m":255.7,"v":1.266},{"m":257.5,"v":1.309},{"m":259.3,"v":1.345},{"m":260.8,"v":1.295},{"m":262.2,"v":1.27},{"m":263.3,"v":1.302},{"m":264.4,"v":1.28},{"m":265.8,"v":1.309},{"m":267.6,"v":1.323},{"m":268.7,"v":1.302},{"m":270.4,"v":1.361},{"m":271.2,"v":1.317},{"m":272.5,"v":1.291},{"m":273.9,"v":1.334},{"m":275.4,"v":1.39},{"m":276.3,"v":1.375},{"m":278.1,"v":1.397},{"m":279.5,"v":1.405},{"m":281,"v":1.468},{"m":282.4,"v":1.498},{"m":283.6,"v":1.522},{"m":285.3,"v":1.605},{"m":286.3,"v":1.553},{"m":287.8,"v":1.59},{"m":289.4,"v":1.568},{"m":290.3,"v":1.58},{"m":291.6,"v":1.6},{"m":292.3,"v":1.553},{"m":293.9,"v":1.585},{"m":295.7,"v":1.6},{"m":297.2,"v":1.632},{"m":298.6,"v":1.64},{"m":299.7,"v":1.648},{"m":301.5,"v":1.675},{"m":302.9,"v":1.653},{"m":304.7,"v":1.731},{"m":306.5,"v":1.709},{"m":308.3,"v":1.751},{"m":309.8,"v":1.751},{"m":310.5,"v":1.715},{"m":311.6,"v":1.76},{"m":314.8,"v":1.78},{"m":315.5,"v":1.76},{"m":317,"v":1.831},{"m":318.4,"v":1.825},{"m":319.5,"v":1.855},{"m":320.4,"v":1.831},{"m":321.6,"v":1.886},{"m":322.7,"v":1.87},{"m":323.6,"v":1.89},{"m":325.2,"v":1.82},{"m":327,"v":1.87},{"m":329,"v":1.975},{"m":330.3,"v":1.925},{"m":331.7,"v":1.9},{"m":334.2,"v":1.89},{"m":335.7,"v":1.855},{"m":338.6,"v":1.87},{"m":340.4,"v":1.831},{"m":341.8,"v":1.85},{"m":344.3,"v":1.87},{"m":345.6,"v":1.975},{"m":347.2,"v":2.015},{"m":348.6,"v":1.949},{"m":350.4,"v":1.9},{"m":352.2,"v":1.886},{"m":353.7,"v":1.87},{"m":355.1,"v":1.9},{"m":356.2,"v":1.943},{"m":357.7,"v":1.943},{"m":358.7,"v":1.975},{"m":359.8,"v":1.955}]
},
"layer":[
{"data":{"values":[{}]},"mark":{"type":"rule","color":"#aaaaaa","strokeDash":[2,3],"strokeWidth":1.3},"encoding":{"y":{"datum":1,"type":"quantitative"}}},
{"data":{"name":"mkt"},"mark":{"type":"line","strokeWidth":3,"strokeJoin":"round"},
"encoding":{
"x":{"field":"m","type":"quantitative","scale":{"domain":[0,360],"nice":false,"zero":false},
"axis":{"title":"Year","values":[12,72,132,192,252,312],"labelExpr":"1994 + datum.value / 12","grid":true,"gridColor":"#e4e4e4","gridWidth":1.3,"tickSize":7,"tickWidth":1.5,"tickColor":"#222","labelFontSize":19.5,"labelColor":"#000","labelPadding":9,"titleFontSize":23,"titleFontWeight":"normal","titleColor":"#000","titlePadding":9,"domainColor":"#222","domainWidth":2,"labelFlush":false,"labelOverlap":false}},
"y":{"field":"v","type":"quantitative","scale":{"type":"log","domain":[0.631,8.06],"nice":false},
"axis":{"title":"Growth of $1 (log scale)","values":[0.7,0.8,0.9,1,2,3,4,5,6,7,8],"labelExpr":"datum.value == 1 ? '10⁰' : ''","grid":true,"gridColor":"#e4e4e4","gridWidth":1.3,"tickSize":{"condition":{"test":"datum.value == 1","value":7},"value":4},"tickWidth":1.5,"tickColor":"#222","labelFontSize":19.5,"labelColor":"#000","labelPadding":9,"titleFontSize":23,"titleFontWeight":"normal","titleColor":"#000","titlePadding":9,"domainColor":"#222","domainWidth":2,"labelOverlap":false}},
"color":{"datum":"MKT-RF","scale":{"domain":["MKT-RF","SMB","HML","RMW","CMA"],"range":["#2c3e50","#e74c3c","#2980b9","#27ae60","#e67e22"]},
"legend":{"title":null,"orient":"top-left","offset":10,"symbolType":"stroke","symbolStrokeWidth":3,"symbolSize":2000,"clipHeight":22,"labelFontSize":19.5,"labelColor":"#000","labelOffset":16,"padding":7,"rowPadding":8.5,"strokeColor":"#cccccc","fillColor":"rgba(255,255,255,0.85)","cornerRadius":5}}}},
{"data":{"name":"smb"},"mark":{"type":"line","strokeWidth":3,"strokeJoin":"round"},"encoding":{"x":{"field":"m","type":"quantitative"},"y":{"field":"v","type":"quantitative"},"color":{"datum":"SMB","scale":{"domain":["MKT-RF","SMB","HML","RMW","CMA"],"range":["#2c3e50","#e74c3c","#2980b9","#27ae60","#e67e22"]}}}},
{"data":{"name":"hml"},"mark":{"type":"line","strokeWidth":3,"strokeJoin":"round"},"encoding":{"x":{"field":"m","type":"quantitative"},"y":{"field":"v","type":"quantitative"},"color":{"datum":"HML","scale":{"domain":["MKT-RF","SMB","HML","RMW","CMA"],"range":["#2c3e50","#e74c3c","#2980b9","#27ae60","#e67e22"]}}}},
{"data":{"name":"rmw"},"mark":{"type":"line","strokeWidth":3,"strokeJoin":"round"},"encoding":{"x":{"field":"m","type":"quantitative"},"y":{"field":"v","type":"quantitative"},"color":{"datum":"RMW","scale":{"domain":["MKT-RF","SMB","HML","RMW","CMA"],"range":["#2c3e50","#e74c3c","#2980b9","#27ae60","#e67e22"]}}}},
{"data":{"name":"cma"},"mark":{"type":"line","strokeWidth":3,"strokeJoin":"round"},"encoding":{"x":{"field":"m","type":"quantitative"},"y":{"field":"v","type":"quantitative"},"color":{"datum":"CMA","scale":{"domain":["MKT-RF","SMB","HML","RMW","CMA"],"range":["#2c3e50","#e74c3c","#2980b9","#27ae60","#e67e22"]}}}},
{"data":{"values":[{}]},"mark":{"type":"rect","fill":"white","stroke":"#222","strokeWidth":1.5,"cornerRadius":6},"encoding":{"x":{"datum":282.5,"type":"quantitative"},"x2":{"datum":354.6},"y":{"datum":0.911,"type":"quantitative"},"y2":{"datum":0.7}}},
{"data":{"values":[{}]},"mark":{"type":"text","text":["MKT-RF dominates in magnitude;","SMB, HML, RMW, CMA are smaller","but distinct return streams"],"align":"right","baseline":"middle","fontSize":18.5,"lineHeight":22.5,"color":"#2c3e50","font":"DejaVu Sans"},"encoding":{"x":{"datum":352.9,"type":"quantitative"},"y":{"datum":0.866,"type":"quantitative"}}}
]
}
